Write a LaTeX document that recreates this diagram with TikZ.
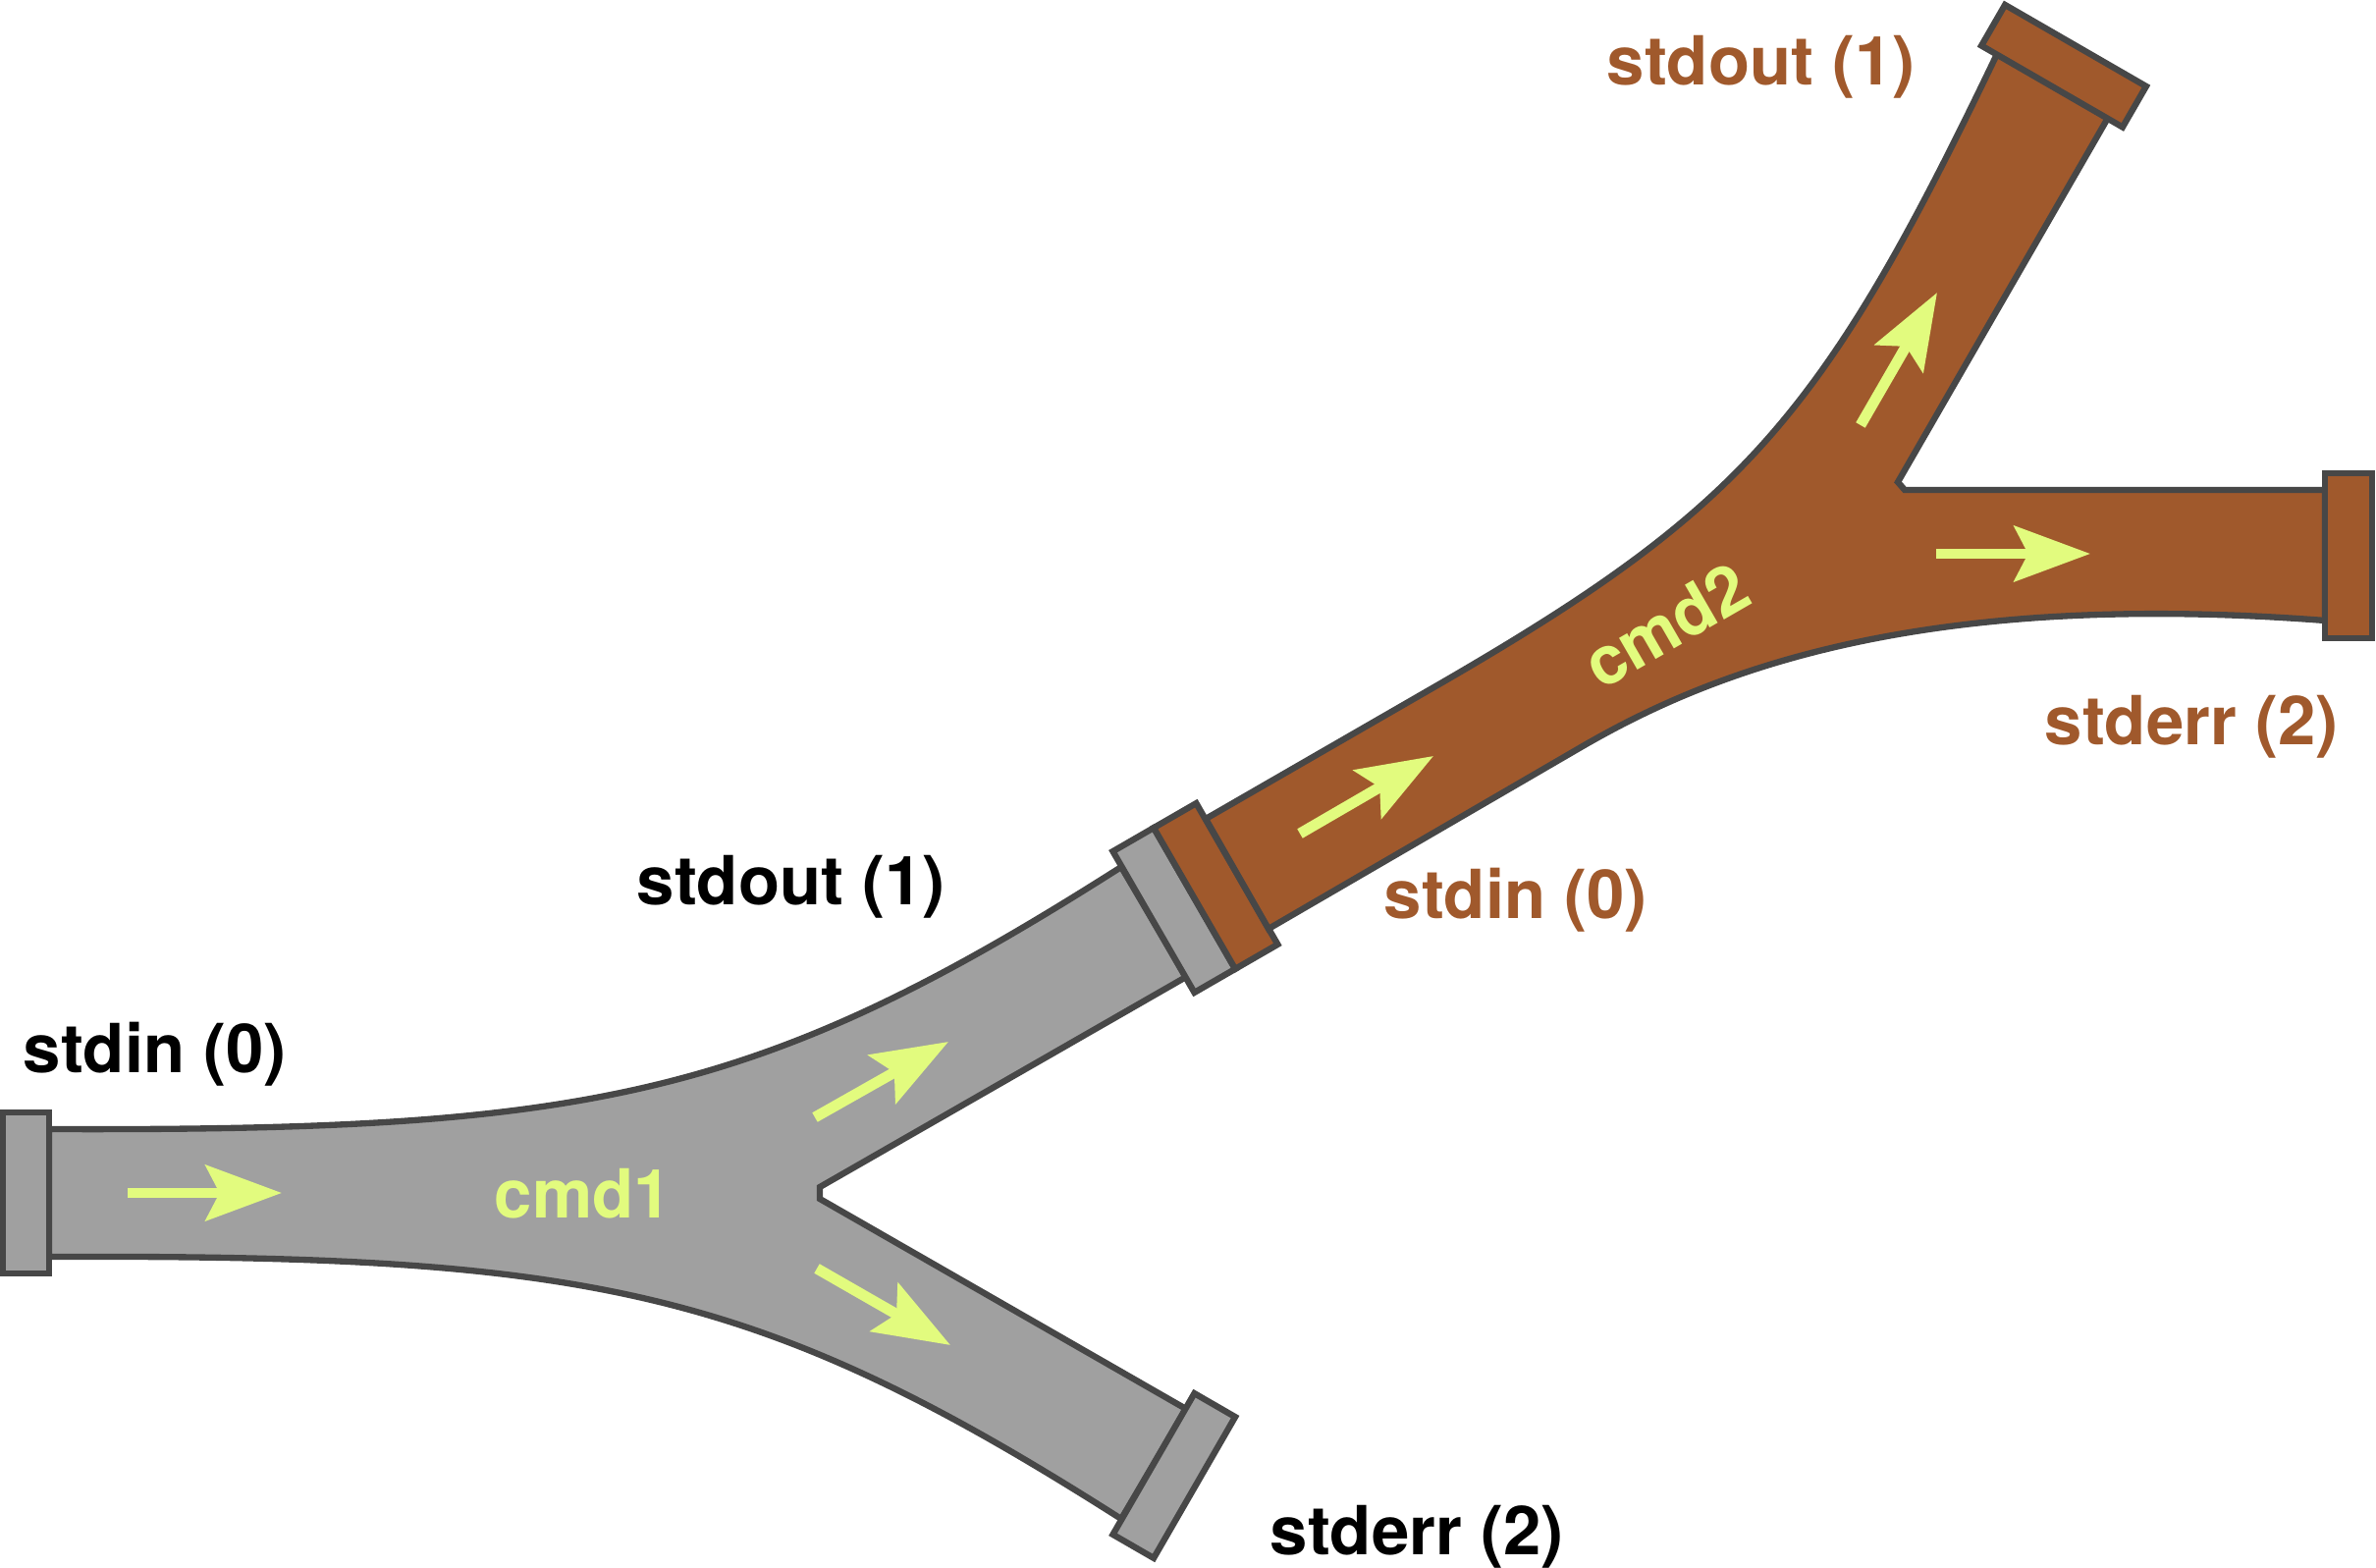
\documentclass[tikz,border=0pt]{standalone}
\usepackage{fontspec}
\setmainfont{TeX Gyre Heros}
\usetikzlibrary{arrows.meta}
\definecolor{pipegray}{HTML}{A0A0A0}
\definecolor{pipebrown}{HTML}{A0592C}
\definecolor{pipeedge}{HTML}{474747}
\definecolor{flowyellow}{HTML}{E2FB7E}
\tikzset{
    every node/.style={font=\fontsize{19.6}{23}\selectfont\bfseries,inner sep=0pt},
    graypipe/.style={fill=pipegray,draw=pipeedge,line width=1.8pt},
    brownpipe/.style={fill=pipebrown,draw=pipeedge,line width=1.8pt},
    flow/.style={draw=flowyellow,line width=3.1pt,-{Stealth[length=22pt,width=16pt,inset=4pt]}},
    graylabel/.style={anchor=base west,text=black},
    brownlabel/.style={anchor=base west,text=pipebrown},
    cmdlabel/.style={text=flowyellow}
}

\begin{document}
\begin{tikzpicture}[x=0.01cm,y=-0.01cm]
\useasboundingbox (0,0) rectangle (2420,1597);
\draw[graypipe] (50,1150) .. controls (600,1152) and (770,1120) .. (1142,883) -- (1208,995)
    -- (835,1209) -- (835,1221) -- (1208,1435) -- (1142,1547)
    .. controls (770,1310) and (600,1278) .. (50,1280) -- cycle;
\draw[graypipe] (3,1133) rectangle (50,1297);
\begin{scope}[shift={(1175,939)},rotate=30]
    \draw[graypipe] (0,-83) rectangle (48,83);
    \draw[brownpipe] (48,-83) rectangle (98,83);
\end{scope}
\begin{scope}[shift={(1175,1491)},rotate=-30]
    \draw[graypipe] (0,-83) rectangle (48,83);
\end{scope}
\draw[brownpipe] (1228,834) -- (1450,706) .. controls (1774,520) and (1854,431) .. (2034,55)
    -- (2147,120) -- (1933,491) -- (1940,499) -- (2368,499) -- (2368,632)
    .. controls (1950,600) and (1740,686) .. (1612,760) -- (1292,946) -- cycle;
\begin{scope}[shift={(2090,88)},rotate=60]
    \draw[brownpipe] (0,-83) rectangle (48,83);
\end{scope}
\draw[brownpipe] (2368,482) rectangle (2416,650);
\foreach \xa/\ya/\xb/\yb in {130/1215/287/1215, 830/1138/966/1061, 832/1292/968/1370,
    1324/849/1460/770, 1895/433/1973/298, 1972/564/2129/564}
    \draw[flow] (\xa,\ya) -- (\xb,\yb);
\node[graylabel] (in1) at (23,1092) {stdin (0)};
\node[graylabel] (out1) at (648,921) {stdout (1)};
\node[graylabel] (err1) at (1293,1583) {stderr (2)};
\node[brownlabel] (in2) at (1409,935) {stdin (0)};
\node[brownlabel] (out2) at (1636,87) {stdout (1)};
\node[brownlabel] (err2) at (2082,758) {stderr (2)};
\node[cmdlabel,anchor=base west] (cmd1) at (503,1240) {cmd1};
\node[cmdlabel,rotate=30] (cmd2) at (1697,637) {cmd2};
\end{tikzpicture}
\end{document}
